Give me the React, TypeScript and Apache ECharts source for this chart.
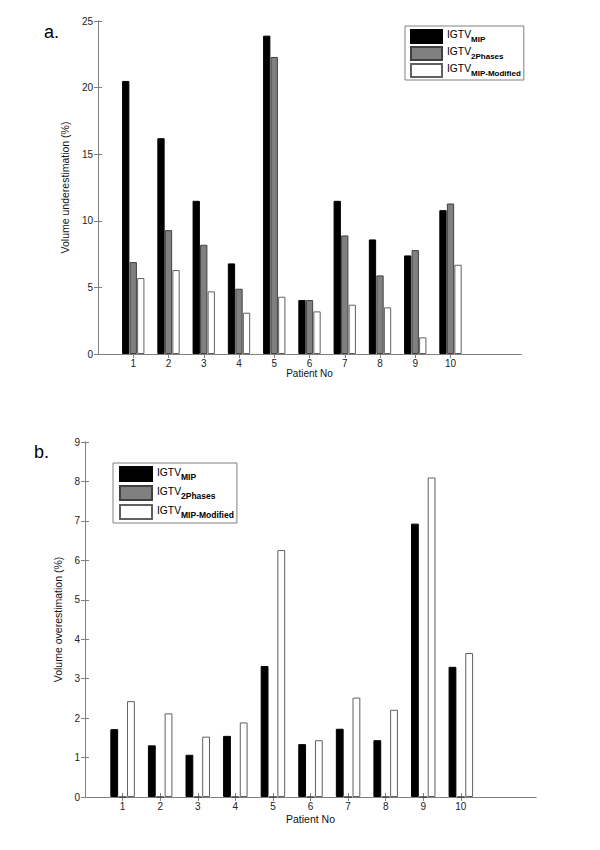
import React, { useEffect, useRef } from "react";
import * as echarts from "echarts";

const patients = [1, 2, 3, 4, 5, 6, 7, 8, 9, 10];
const seriesNames = ["IGTV_MIP", "IGTV_2Phases", "IGTV_MIP-Modified"];

// a. Volume underestimation (%)
const underMip = [20.5, 16.2, 11.5, 6.8, 23.9, 4.05, 11.5, 8.6, 7.4, 10.8];
const under2Phases = [6.9, 9.3, 8.2, 4.9, 22.3, 4.05, 8.9, 5.9, 7.8, 11.3];
const underMipModified = [5.7, 6.3, 4.7, 3.1, 4.3, 3.2, 3.7, 3.5, 1.25, 6.7];

// b. Volume overestimation (%)
const overMip = [1.72, 1.31, 1.07, 1.55, 3.32, 1.34, 1.73, 1.44, 6.93, 3.3];
const over2Phases = [0, 0, 0, 0, 0, 0, 0, 0, 0, 0];
const overMipModified = [2.43, 2.12, 1.53, 1.89, 6.26, 1.44, 2.52, 2.21, 8.1, 3.65];

const FONT = "'Liberation Sans', Arial, sans-serif";
const AXIS_GREY = "#808080";
const fills = ["#000000", "#808080", "#ffffff"];
const borders = ["#000000", "#404040", "#606060"];

function pairs(vals: number[]) {
  return vals.map((v, i) => [patients[i], v]);
}

function xAxes(grid: number, nameSize: number, nameGap: number) {
  const tick = {
    show: true,
    inside: true,
    length: 4,
    customValues: patients,
    lineStyle: { color: AXIS_GREY, width: 1 },
  };
  return [
    {
      gridIndex: grid,
      type: "value",
      position: "bottom",
      min: 0,
      max: 12,
      interval: 1,
      axisLine: { show: true, lineStyle: { color: AXIS_GREY, width: 1 } },
      axisTick: tick,
      axisLabel: {
        show: true,
        customValues: patients,
        color: "#222",
        fontSize: 10,
        fontFamily: FONT,
        margin: 4,
      },
      splitLine: { show: false },
      name: "Patient No",
      nameLocation: "middle",
      nameGap,
      nameTextStyle: { color: "#111", fontSize: nameSize, fontFamily: FONT },
    },
    {
      gridIndex: grid,
      type: "value",
      position: "top",
      min: 0,
      max: 12,
      interval: 1,
      axisLine: { show: true, lineStyle: { color: AXIS_GREY, width: 1 } },
      axisTick: tick,
      axisLabel: { show: false },
      splitLine: { show: false },
    },
  ];
}

function yAxes(grid: number, max: number, interval: number, name: string, nameGap: number) {
  const tick = { show: true, inside: true, length: 4, lineStyle: { color: AXIS_GREY, width: 1 } };
  return [
    {
      gridIndex: grid,
      type: "value",
      position: "left",
      min: 0,
      max,
      interval,
      axisLine: { show: true, lineStyle: { color: AXIS_GREY, width: 1 } },
      axisTick: tick,
      axisLabel: { color: "#222", fontSize: 10, fontFamily: FONT, margin: 5 },
      splitLine: { show: false },
      name,
      nameLocation: "middle",
      nameGap,
      nameTextStyle: { color: "#111", fontSize: 10.5, fontFamily: FONT },
    },
    {
      gridIndex: grid,
      type: "value",
      position: "right",
      min: 0,
      max,
      interval,
      axisLine: { show: true, lineStyle: { color: AXIS_GREY, width: 1 } },
      axisTick: tick,
      axisLabel: { show: false },
      splitLine: { show: false },
    },
  ];
}

function legendFormatter(name: string) {
  const idx = name.indexOf("_");
  return `{m|${name.slice(0, idx)}}{s|${name.slice(idx + 1)}}`;
}

function legend(left: number, top: number, itemW: number, itemH: number, gap: number, lh: number, mainSize: number, subSize: number, padding: number[]) {
  return {
    show: true,
    orient: "vertical",
    left,
    top,
    data: seriesNames,
    icon: "rect",
    itemWidth: itemW,
    itemHeight: itemH,
    itemGap: gap,
    padding,
    borderColor: AXIS_GREY,
    borderWidth: 1,
    backgroundColor: "#fff",
    selectedMode: false,
    formatter: legendFormatter,
    textStyle: {
      color: "#000",
      fontFamily: FONT,
      rich: {
        m: { fontSize: mainSize, fontFamily: FONT, color: "#000", lineHeight: lh - 4, padding: [0, 0, 4, 0] },
        s: { fontSize: subSize, fontFamily: FONT, fontWeight: "bold", color: "#000", lineHeight: lh - 5, padding: [5, 0, 0, 0] },
      },
    },
  };
}

function barSeries(vals: number[][], grid: number, barWidth: number, barGap: string) {
  return vals.map((v, i) => ({
    type: "bar",
    name: seriesNames[i],
    xAxisIndex: grid * 2,
    yAxisIndex: grid * 2,
    data: pairs(v),
    barWidth,
    barGap,
    itemStyle: { color: fills[i], borderColor: borders[i], borderWidth: 1 },
    emphasis: { disabled: true },
  }));
}

export default function App() {
  const ref = useRef<HTMLDivElement>(null);
  useEffect(() => {
    if (!ref.current) return;
    const chart = echarts.init(ref.current, null, { renderer: "svg" });
    chart.setOption({
      animation: false,
      backgroundColor: "#fff",
      textStyle: { fontFamily: FONT },
      title: [
        { text: "a.", left: 44, top: 23, padding: 0, textStyle: { fontSize: 18, fontWeight: "normal", color: "#000", fontFamily: FONT } },
        { text: "b.", left: 34, top: 443, padding: 0, textStyle: { fontSize: 18, fontWeight: "normal", color: "#000", fontFamily: FONT } },
      ],
      grid: [
        { left: 98, top: 21, width: 423, height: 333, containLabel: false },
        { left: 85, top: 442, width: 451, height: 355, containLabel: false },
      ],
      xAxis: [...xAxes(0, 10, 14), ...xAxes(1, 10.5, 16)],
      yAxis: [
        ...yAxes(0, 25, 5, "Volume underestimation (%)", 17),
        ...yAxes(1, 9, 1, "Volume overestimation (%)", 12),
      ],
      legend: [
        legend(405, 26, 31, 13, 2, 15, 10.3, 8, [3, 3, 2, 5]),
        legend(113, 463, 32, 14, 3, 16, 10.3, 8.5, [3, 3, 3, 6]),
      ],
      series: [
        ...barSeries([underMip, under2Phases, underMipModified], 0, 7.3, "3%"),
        ...barSeries([overMip, over2Phases, overMipModified], 1, 7.8, "7%"),
      ],
    });
    return () => chart.dispose();
  }, []);
  return <div ref={ref} style={{ position: "absolute", left: 0, top: 0, width: 600, height: 850 }} />;
}
